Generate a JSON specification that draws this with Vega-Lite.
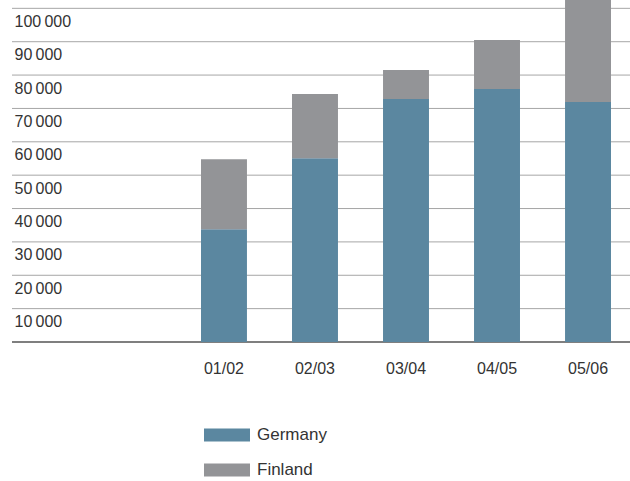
{
  "$schema": "https://vega.github.io/schema/vega-lite/v6.json",
  "width": 618,
  "height": 342,
  "autosize": {"type": "none"},
  "padding": {"left": 12, "top": 0, "right": 0, "bottom": 139},
  "config": {
    "view": {"stroke": null},
    "font": "Liberation Sans",
    "axisY": {"labelOverlap": false},
    "locale": {"number": {"decimal": ".", "thousands": "\u2009", "grouping": [3], "currency": ["", ""]}}
  },
  "layer": [
    {
      "data": {"values": [
        {"tick": 0}, {"tick": 10000}, {"tick": 20000}, {"tick": 30000}, {"tick": 40000}, {"tick": 50000},
        {"tick": 60000}, {"tick": 70000}, {"tick": 80000}, {"tick": 90000}, {"tick": 100000}
      ]},
      "mark": {"type": "rule"},
      "encoding": {
        "y": {"field": "tick", "type": "quantitative", "scale": {"domain": [0, 102500], "nice": false},
          "axis": {"title": null, "values": [10000, 20000, 30000, 40000, 50000, 60000, 70000, 80000, 90000, 100000], "format": ",d", "domain": false, "ticks": false, "grid": false,
            "labelAlign": "left", "labelBaseline": "top", "labelPadding": -2, "labelOffset": 5, "labelFontSize": 16, "labelColor": "#333333", "labelFlush": false, "labelOverlap": false}},
        "color": {"condition": {"test": "datum.tick === 0", "value": "#555555"}, "value": "#a6a6a6"},
        "strokeWidth": {"condition": {"test": "datum.tick === 0", "value": 1.3}, "value": 1}
      }
    },
    {
      "data": {
        "values": [
          {"season": "01/02", "country": "Germany", "value": 33800},
          {"season": "01/02", "country": "Finland", "value": 21000},
          {"season": "02/03", "country": "Germany", "value": 55100},
          {"season": "02/03", "country": "Finland", "value": 19200},
          {"season": "03/04", "country": "Germany", "value": 72800},
          {"season": "03/04", "country": "Finland", "value": 8700},
          {"season": "04/05", "country": "Germany", "value": 75800},
          {"season": "04/05", "country": "Finland", "value": 14700},
          {"season": "05/06", "country": "Germany", "value": 71900},
          {"season": "05/06", "country": "Finland", "value": 33000}
        ]
      },
      "mark": {"type": "bar", "clip": true},
      "encoding": {
        "x": {
          "field": "season", "type": "ordinal", "sort": null,
          "scale": {"paddingInner": 0.495, "paddingOuter": 0, "range": [189, 599]},
          "axis": {"title": null, "ticks": false, "domain": false, "grid": false, "labelAngle": 0, "labelPadding": 26, "labelFontSize": 16, "labelColor": "#333333", "labelBaseline": "middle"}
        },
        "y": {
          "field": "value", "type": "quantitative", "stack": "zero",
          "scale": {"domain": [0, 102500], "nice": false},
          "axis": {"title": null, "values": [10000, 20000, 30000, 40000, 50000, 60000, 70000, 80000, 90000, 100000], "format": ",d", "domain": false, "ticks": false, "grid": false,
            "labelAlign": "left", "labelBaseline": "top", "labelPadding": -2, "labelOffset": 5, "labelFontSize": 16, "labelColor": "#333333", "labelFlush": false, "labelOverlap": false}
        },
        "color": {
          "field": "country", "type": "nominal",
          "scale": {"domain": ["Germany", "Finland"], "range": ["#5b87a0", "#939497"]},
          "legend": {"title": null, "orient": "none", "legendX": 192, "legendY": 412, "padding": 0, "symbolType": "M-1,-0.283H1V0.283H-1Z", "symbolSize": 2116, "symbolOpacity": 1, "symbolStrokeWidth": 0, "labelFontSize": 17, "labelColor": "#333333", "labelOffset": 7, "rowPadding": 4}
        },
        "order": {"field": "country", "sort": "descending"}
      }
    }
  ]
}
